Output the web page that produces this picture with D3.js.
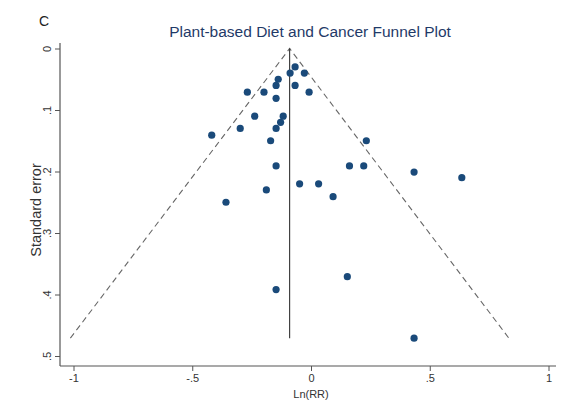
<!DOCTYPE html>
<html>
<head>
<meta charset="utf-8">
<script src="https://cdn.jsdelivr.net/npm/d3@7"></script>
<style>
  html, body { margin: 0; padding: 0; background: #fff; }
  svg { display: block; font-family: "Liberation Sans", Arial, sans-serif; }
</style>
</head>
<body>
<svg id="chart" width="570" height="412"></svg>
<script>
// Study estimates: log relative risk and its standard error
const lnRR = [-0.067, -0.088, -0.028, -0.138, -0.147, -0.067, -0.268, -0.198, -0.008, -0.147,
              -0.237, -0.117, -0.128, -0.298, -0.147, -0.418, -0.170, 0.233, -0.147, 0.162,
              0.222, 0.434, 0.635, -0.188, -0.048, 0.032, 0.093, -0.358, 0.153, 0.434, -0.147];
const stdErr = [0.030, 0.040, 0.040, 0.050, 0.060, 0.060, 0.071, 0.071, 0.071, 0.081,
                0.110, 0.110, 0.120, 0.130, 0.130, 0.141, 0.150, 0.150, 0.191, 0.191,
                0.191, 0.201, 0.210, 0.230, 0.220, 0.220, 0.241, 0.250, 0.371, 0.471, 0.392];
const pooledLnRR = -0.09;

const xTicks = [-1, -0.5, 0, 0.5, 1];
const xTickLabels = ["-1", "-.5", "0", ".5", "1"];
const yTicks = [0, 0.1, 0.2, 0.3, 0.4, 0.5];
const yTickLabels = ["0", ".1", ".2", ".3", ".4", ".5"];

const svg = d3.select("#chart");

const x = d3.scaleLinear().domain([-1, 1]).range([73.5, 548.5]);
const y = d3.scaleLinear().domain([0, 0.5]).range([48.5, 356]);

// plot region edges (axis lines span slightly beyond the tick range)
const region = { left: 60, right: 556, top: 43, bottom: 366 };

const axisColor = "#555";
const textColor = "#333";

// y axis
const yAxis = d3.axisLeft(y).tickValues(yTicks)
  .tickFormat((d, i) => yTickLabels[i]).tickSize(5).tickPadding(3);
const gy = svg.append("g").attr("transform", `translate(${region.left},0)`).call(yAxis);
gy.select(".domain").remove();
gy.append("line").attr("x1", 0).attr("x2", 0).attr("y1", region.top).attr("y2", region.bottom)
  .attr("stroke", axisColor).attr("stroke-width", 1.2);
gy.selectAll(".tick line").attr("stroke", axisColor);
gy.selectAll(".tick text")
  .attr("fill", textColor).attr("font-size", 11)
  .attr("x", 0).attr("dy", 0)
  .attr("text-anchor", "middle")
  .attr("transform", "translate(-9,0) rotate(-90)");

// x axis
const xAxis = d3.axisBottom(x).tickValues(xTicks)
  .tickFormat((d, i) => xTickLabels[i]).tickSize(5).tickPadding(3);
const gx = svg.append("g").attr("transform", `translate(0,${region.bottom})`).call(xAxis);
gx.select(".domain").remove();
gx.append("line").attr("x1", region.left).attr("x2", region.right).attr("y1", 0).attr("y2", 0)
  .attr("stroke", axisColor).attr("stroke-width", 1.2);
gx.selectAll(".tick line").attr("stroke", axisColor);
gx.selectAll(".tick text").attr("fill", textColor).attr("font-size", 11);

// axis titles
svg.append("text")
  .attr("x", x(0)).attr("y", 398)
  .attr("text-anchor", "middle").attr("font-size", 11).attr("fill", textColor)
  .text("Ln(RR)");
svg.append("text")
  .attr("transform", "translate(41,210) rotate(-90)")
  .attr("text-anchor", "middle").attr("font-size", 14.5).attr("fill", textColor)
  .text("Standard error");

// pseudo 95% confidence limits
const seMax = d3.max(stdErr);
const funnel = [
  [pooledLnRR - 1.96 * seMax, seMax],
  [pooledLnRR, 0],
  [pooledLnRR + 1.96 * seMax, seMax]
];
svg.append("path")
  .attr("d", d3.line().x(d => x(d[0])).y(d => y(d[1]))(funnel))
  .attr("fill", "none").attr("stroke", "#666").attr("stroke-width", 1.1)
  .attr("stroke-dasharray", "6,4");

// pooled estimate line
svg.append("line")
  .attr("x1", x(pooledLnRR)).attr("x2", x(pooledLnRR))
  .attr("y1", y(0)).attr("y2", y(seMax))
  .attr("stroke", "#333").attr("stroke-width", 1.1);

// study points
svg.append("g").selectAll("circle")
  .data(lnRR.map((v, i) => [v, stdErr[i]]))
  .join("circle")
  .attr("cx", d => x(d[0])).attr("cy", d => y(d[1]))
  .attr("r", 3.6).attr("fill", "#1a4a7a");

// titles
svg.append("text")
  .attr("x", 310).attr("y", 37)
  .attr("text-anchor", "middle").attr("font-size", 15.5).attr("fill", "#1f3a68")
  .text("Plant-based Diet and Cancer Funnel Plot");
svg.append("text")
  .attr("x", 39).attr("y", 26)
  .attr("font-size", 14).attr("fill", "#222")
  .text("C");
</script>
</body>
</html>
